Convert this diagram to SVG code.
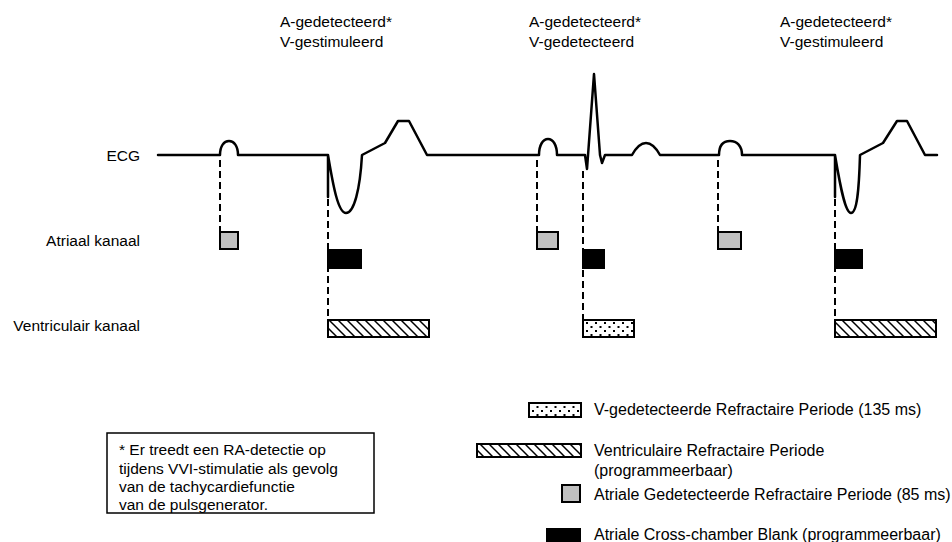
<svg xmlns="http://www.w3.org/2000/svg" width="952" height="542" viewBox="0 0 952 542">
<style>
text{font-family:"Liberation Sans",Arial,Helvetica,sans-serif;font-size:15.5px;fill:#000}
.r{text-anchor:end}
.lg{font-size:16px}
.ecg{fill:none;stroke:#000;stroke-width:2.5;stroke-linejoin:round;stroke-linecap:round}
.dash{fill:none;stroke:#000;stroke-width:2;stroke-dasharray:7 4}
.gray{fill:#c0c0c0;stroke:#000;stroke-width:2}
.blk{fill:#000;stroke:#000;stroke-width:2}
.hat{fill:url(#hatch);stroke:#000;stroke-width:2}
.dot{fill:url(#dots);stroke:#000;stroke-width:2}
</style>
<defs>
<pattern id="hatch" patternUnits="userSpaceOnUse" width="9" height="9">
<rect width="9" height="9" fill="#fff"/>
<path d="M-2,-2 L11,11 M-2,7 L2,11 M7,-2 L11,2" stroke="#000" stroke-width="1.5"/>
</pattern>
<pattern id="dots" patternUnits="userSpaceOnUse" width="9" height="8">
<rect width="9" height="8" fill="#fff"/>
<rect x="1" y="2" width="2" height="2" fill="#000"/>
<rect x="5.5" y="6" width="2" height="2" fill="#000"/>
</pattern>
</defs>

<g id="labels">
<text x="140" y="161" class="r">ECG</text>
<text x="140" y="246" class="r">Atriaal kanaal</text>
<text x="140" y="331" class="r">Ventriculair kanaal</text>
</g>

<g id="event1">
<text x="280" y="27">A-gedetecteerd*</text>
<text x="280" y="47">V-gestimuleerd</text>
</g>
<g id="event2">
<text x="529" y="27">A-gedetecteerd*</text>
<text x="529" y="47">V-gedetecteerd</text>
</g>
<g id="event3">
<text x="780" y="27">A-gedetecteerd*</text>
<text x="780" y="47">V-gestimuleerd</text>
</g>

<g id="ecg">
<path class="ecg" d="M158,155 L220,155 C220,146 224,141 229,141 C234,141 238,146 238,155 L328,155 L328,197 M328,155 C333,185 338,213 346,213 C354,213 360,190 362,155 L385,143 L398,121 L409,121 L427,155 L539,155 C539,145 543,139 548,139 C553,139 557,145 557,155 L585,155 L587,169 L594,74 L600,155 L602,163 L605,155 L632,155 C637,146 641,143 646,143 C651,143 655,146 660,155 L719,155 C719,146 723,141 730,141 C737,141 742,146 742,155 L835,155 L835,197 M835,155 C840,185 845,213 851,213 C857,213 859,190 860,155 L883,143 L897,121 L907,121 L925,155 L937,155"/>
</g>

<g id="connectors">
<line class="dash" x1="220" y1="160" x2="220" y2="232"/>
<line class="dash" x1="328" y1="199" x2="328" y2="320"/>
<line class="dash" x1="537" y1="160" x2="537" y2="232"/>
<line class="dash" x1="583" y1="171" x2="583" y2="320"/>
<line class="dash" x1="718" y1="160" x2="718" y2="232"/>
<line class="dash" x1="835" y1="199" x2="835" y2="320"/>
</g>

<g id="atrial">
<rect class="gray" x="220" y="232" width="18" height="17"/>
<rect class="gray" x="537" y="232" width="21" height="17"/>
<rect class="gray" x="718" y="232" width="23" height="17"/>
<rect class="blk" x="328" y="250" width="33" height="18"/>
<rect class="blk" x="583" y="250" width="21" height="18"/>
<rect class="blk" x="835" y="250" width="27" height="18"/>
</g>

<g id="ventricular">
<rect class="hat" x="328" y="320" width="101" height="17"/>
<rect class="dot" x="583" y="320" width="51" height="17"/>
<rect class="hat" x="835" y="320" width="101" height="17"/>
</g>

<g id="note">
<rect x="107" y="433" width="267" height="80" fill="#fff" stroke="#000" stroke-width="1.5"/>
<text x="119" y="455">* Er treedt een RA-detectie op</text>
<text x="119" y="474">tijdens VVI-stimulatie als gevolg</text>
<text x="119" y="492">van de tachycardiefunctie</text>
<text x="119" y="510">van de pulsgenerator.</text>
</g>

<g id="legend">
<rect class="dot" x="529" y="403" width="52" height="14"/>
<text class="lg" x="594" y="415">V-gedetecteerde Refractaire Periode (135 ms)</text>
<rect class="hat" x="477" y="444" width="104" height="13"/>
<text class="lg" x="594" y="456">Ventriculaire Refractaire Periode</text>
<text class="lg" x="594" y="476">(programmeerbaar)</text>
<rect class="gray" x="562" y="485" width="18" height="17"/>
<text class="lg" x="594" y="500">Atriale Gedetecteerde Refractaire Periode (85 ms)</text>
<rect class="blk" x="547" y="529" width="33" height="15"/>
<text class="lg" x="594" y="540">Atriale Cross-chamber Blank (programmeerbaar)</text>
</g>
</svg>
